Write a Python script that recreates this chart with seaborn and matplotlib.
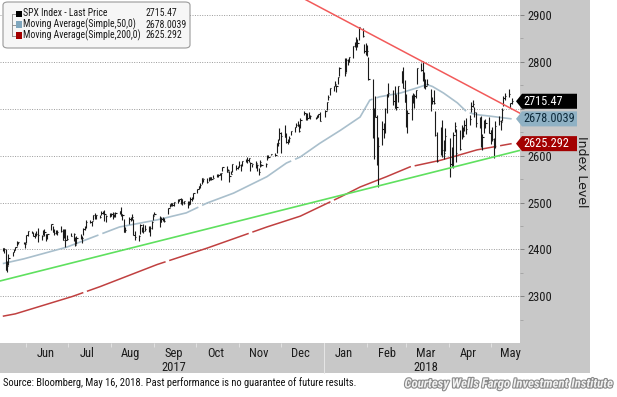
import numpy as np
import pandas as pd
import matplotlib
matplotlib.use("Agg")
import matplotlib.pyplot as plt
import matplotlib.dates as mdates
import matplotlib.transforms as mtransforms
import matplotlib.patheffects as pe
from matplotlib import font_manager as fm
from matplotlib.font_manager import FontProperties
from matplotlib.patches import FancyBboxPatch, Rectangle, Polygon
import seaborn as sns

# ---- data ----
holidays = ["2017-05-29", "2017-07-04", "2017-09-04", "2017-11-23", "2017-12-25",
            "2018-01-01", "2018-01-15", "2018-02-19", "2018-03-30"]

spx_close = [
    # May 2017
    2402.3, 2400.7, 2357.0, 2365.7, 2381.7, 2394.0, 2398.4, 2404.4, 2415.1, 2415.8, 2412.9, 2411.8,
    # Jun
    2430.1, 2439.1, 2436.1, 2429.3, 2433.1, 2433.8, 2431.8, 2429.4, 2440.4, 2437.9, 2432.5, 2433.2,
    2453.5, 2437.0, 2435.6, 2434.5, 2438.3, 2439.1, 2419.4, 2440.7, 2419.7, 2423.4,
    # Jul
    2429.0, 2432.5, 2409.8, 2425.2, 2427.4, 2425.5, 2443.3, 2447.8, 2459.3, 2459.1, 2460.6, 2473.8,
    2473.5, 2472.5, 2469.9, 2477.1, 2477.8, 2475.4, 2472.1, 2470.3,
    # Aug
    2476.4, 2477.6, 2472.2, 2476.8, 2480.9, 2474.9, 2474.0, 2438.2, 2441.3, 2465.8, 2464.6, 2468.1,
    2430.0, 2425.6, 2428.4, 2452.5, 2444.0, 2439.0, 2443.1, 2444.2, 2446.3, 2457.6, 2471.7,
    # Sep
    2476.6, 2457.9, 2465.5, 2465.1, 2461.4, 2488.1, 2496.5, 2498.4, 2495.6, 2500.2, 2503.9, 2506.7,
    2508.2, 2500.6, 2502.2, 2496.7, 2496.8, 2507.0, 2510.1, 2519.4,
    # Oct
    2529.1, 2534.6, 2537.7, 2552.1, 2549.3, 2544.7, 2550.6, 2555.2, 2550.9, 2553.2, 2557.6, 2559.4,
    2561.3, 2562.1, 2575.2, 2565.0, 2569.1, 2557.2, 2560.4, 2581.1, 2572.8, 2575.3,
    # Nov
    2579.4, 2579.9, 2587.8, 2591.1, 2590.6, 2594.4, 2584.6, 2582.3, 2584.8, 2578.9, 2564.6, 2585.6,
    2578.9, 2582.1, 2599.0, 2597.1, 2602.4, 2601.4, 2627.0, 2626.1, 2647.6,
    # Dec
    2642.2, 2639.4, 2629.6, 2629.3, 2637.0, 2651.5, 2660.0, 2664.1, 2662.9, 2652.0, 2675.8, 2690.2,
    2681.5, 2679.3, 2684.6, 2683.3, 2680.5, 2682.6, 2687.5, 2673.6,
    # Jan 2018
    2695.8, 2713.1, 2724.0, 2743.2, 2747.7, 2751.3, 2748.2, 2767.6, 2786.2, 2776.4, 2802.6, 2798.0,
    2810.3, 2833.0, 2839.1, 2837.5, 2839.3, 2872.9, 2853.5, 2822.4, 2823.8,
    # Feb
    2822.0, 2762.1, 2648.9, 2695.1, 2681.7, 2581.0, 2619.6, 2656.0, 2662.9, 2698.6, 2731.2, 2732.2,
    2716.3, 2701.3, 2704.0, 2747.3, 2779.6, 2744.3, 2713.8,
    # Mar
    2677.7, 2691.3, 2720.9, 2728.1, 2726.8, 2739.0, 2786.6, 2783.0, 2765.3, 2749.5, 2747.3, 2752.0,
    2712.9, 2716.9, 2711.9, 2643.7, 2588.3, 2658.6, 2612.6, 2605.0, 2640.9,
    # Apr
    2581.9, 2614.5, 2644.7, 2662.8, 2604.5, 2613.2, 2656.9, 2642.2, 2664.0, 2656.3, 2677.8, 2706.4,
    2708.6, 2693.1, 2670.1, 2670.3, 2634.6, 2639.4, 2666.9, 2669.9, 2648.1,
    # May
    2654.8, 2635.7, 2629.7, 2663.4, 2672.6, 2671.9, 2697.8, 2723.1, 2727.7, 2730.1, 2711.5, 2715.47,
]

spx_high = [
    2404.0, 2403.9, 2400.4, 2375.7, 2390.0, 2395.5, 2400.9, 2405.6, 2418.7, 2416.0, 2415.8, 2415.4,
    2430.1, 2440.2, 2439.0, 2436.2, 2435.3, 2439.0, 2446.2, 2430.9, 2441.5, 2443.8, 2433.9, 2433.2,
    2453.8, 2450.4, 2442.6, 2441.6, 2441.0, 2450.4, 2442.9, 2443.4, 2442.7, 2430.7,
    2436.0, 2434.3, 2425.9, 2428.3, 2432.0, 2429.3, 2445.0, 2449.3, 2463.5, 2462.8, 2460.9, 2473.8,
    2477.6, 2472.5, 2473.1, 2481.2, 2481.7, 2484.0, 2473.5, 2478.0,
    2478.5, 2479.0, 2476.6, 2480.4, 2480.9, 2490.9, 2474.9, 2465.0, 2448.1, 2468.2, 2468.6, 2474.9,
    2465.2, 2440.3, 2430.6, 2454.8, 2448.9, 2454.4, 2451.4, 2449.1, 2449.2, 2460.1, 2475.0,
    2480.4, 2472.0, 2469.6, 2468.6, 2467.1, 2488.9, 2496.8, 2498.4, 2498.4, 2500.2, 2508.3, 2507.8,
    2508.9, 2507.8, 2503.5, 2502.9, 2503.5, 2511.8, 2510.8, 2519.4,
    2529.2, 2535.1, 2540.5, 2552.5, 2550.0, 2551.8, 2555.2, 2555.2, 2555.3, 2557.6, 2559.7, 2559.7,
    2562.4, 2562.4, 2575.4, 2578.3, 2572.2, 2567.4, 2567.1, 2583.0, 2580.0, 2578.3,
    2588.4, 2581.1, 2588.4, 2593.4, 2597.0, 2594.4, 2586.5, 2583.0, 2587.7, 2580.9, 2572.8, 2590.1,
    2583.0, 2584.6, 2601.2, 2600.9, 2604.2, 2606.4, 2627.7, 2634.9, 2657.7,
    2650.6, 2665.2, 2648.7, 2634.4, 2641.0, 2651.7, 2660.3, 2669.7, 2673.3, 2668.1, 2679.6, 2695.0,
    2691.0, 2691.0, 2693.0, 2685.4, 2682.7, 2685.6, 2688.0, 2692.1,
    2695.9, 2714.4, 2729.3, 2743.5, 2748.5, 2759.1, 2750.8, 2767.6, 2787.9, 2807.5, 2807.0, 2805.8,
    2810.3, 2833.0, 2842.2, 2853.0, 2848.6, 2872.9, 2870.6, 2837.8, 2839.3,
    2836.0, 2808.9, 2763.4, 2701.0, 2727.7, 2685.3, 2638.7, 2672.6, 2668.8, 2702.1, 2731.5, 2754.4,
    2739.1, 2747.8, 2731.3, 2747.8, 2780.0, 2789.2, 2761.5,
    2730.9, 2696.2, 2728.1, 2732.1, 2731.0, 2740.5, 2786.6, 2797.0, 2801.9, 2777.1, 2763.0, 2761.9,
    2741.4, 2724.2, 2739.1, 2695.7, 2650.9, 2661.4, 2674.8, 2632.7, 2659.1,
    2638.3, 2619.1, 2649.9, 2672.1, 2656.9, 2653.6, 2665.5, 2661.4, 2674.7, 2680.3, 2686.5, 2713.3,
    2717.5, 2702.8, 2692.4, 2682.9, 2683.6, 2645.3, 2676.5, 2677.3, 2682.9,
    2655.3, 2660.9, 2637.1, 2673.6, 2683.4, 2676.3, 2701.3, 2726.1, 2732.9, 2742.1, 2711.8, 2722.5,
]

spx_low = [
    2396.0, 2393.2, 2356.2, 2352.7, 2367.8, 2386.9, 2393.9, 2397.9, 2408.0, 2410.8, 2410.7, 2403.6,
    2413.5, 2427.7, 2434.3, 2428.1, 2424.8, 2427.9, 2415.7, 2419.9, 2431.3, 2428.3, 2418.5, 2422.9,
    2441.8, 2436.6, 2430.7, 2433.3, 2431.3, 2437.0, 2419.4, 2425.4, 2405.7, 2419.3,
    2428.5, 2419.0, 2407.7, 2412.1, 2422.3, 2412.8, 2431.6, 2441.4, 2446.7, 2457.2, 2450.3, 2463.5,
    2465.4, 2465.1, 2466.3, 2473.5, 2474.9, 2459.9, 2459.1, 2468.5,
    2471.1, 2464.0, 2468.4, 2468.4, 2475.9, 2470.3, 2462.0, 2437.8, 2437.3, 2454.6, 2460.5, 2463.6,
    2430.0, 2420.7, 2417.4, 2433.7, 2437.9, 2435.7, 2439.9, 2436.4, 2428.2, 2443.4, 2462.1,
    2473.9, 2446.9, 2459.2, 2460.3, 2459.4, 2474.5, 2490.4, 2492.1, 2491.9, 2493.2, 2499.9, 2502.2,
    2496.7, 2494.9, 2496.5, 2488.9, 2495.1, 2495.9, 2502.9, 2507.8,
    2520.4, 2528.9, 2531.8, 2540.0, 2544.0, 2541.6, 2544.9, 2547.9, 2547.0, 2552.1, 2554.5, 2554.7,
    2557.5, 2547.9, 2567.2, 2564.3, 2566.6, 2544.0, 2559.8, 2565.9, 2568.3, 2572.2,
    2574.9, 2566.2, 2576.8, 2585.7, 2584.4, 2585.7, 2566.3, 2575.6, 2574.5, 2566.6, 2557.5, 2576.1,
    2577.5, 2576.2, 2590.8, 2594.7, 2600.5, 2598.9, 2605.4, 2620.3, 2633.9,
    2605.5, 2639.0, 2627.7, 2624.8, 2628.2, 2644.1, 2649.1, 2659.8, 2662.4, 2650.2, 2659.1, 2685.9,
    2676.1, 2676.1, 2680.7, 2678.1, 2678.0, 2678.9, 2682.7, 2673.6,
    2682.4, 2697.8, 2719.1, 2727.9, 2737.6, 2747.9, 2736.1, 2752.8, 2769.6, 2768.6, 2778.4, 2792.6,
    2798.1, 2808.1, 2830.6, 2824.8, 2830.9, 2846.2, 2851.5, 2818.3, 2813.0,
    2812.7, 2760.0, 2638.2, 2593.1, 2681.3, 2580.6, 2532.7, 2622.4, 2637.1, 2648.9, 2689.8, 2725.1,
    2706.8, 2701.3, 2697.8, 2713.7, 2753.8, 2744.2, 2713.5,
    2659.7, 2647.3, 2675.8, 2711.3, 2701.7, 2722.7, 2751.5, 2779.3, 2758.7, 2744.4, 2741.5, 2750.0,
    2694.6, 2710.1, 2709.8, 2641.6, 2585.9, 2601.8, 2596.1, 2593.1, 2609.7,
    2553.8, 2574.6, 2573.6, 2649.6, 2586.3, 2610.8, 2635.8, 2639.3, 2652.5, 2645.1, 2665.2, 2692.1,
    2703.6, 2681.9, 2660.6, 2657.7, 2617.3, 2612.7, 2647.2, 2659.0, 2648.0,
    2625.4, 2631.7, 2594.6, 2615.3, 2664.7, 2655.2, 2674.1, 2704.5, 2717.5, 2725.5, 2701.6, 2709.2,
]

ma50_dates = ["2017-05-15", "2017-05-30", "2017-06-30", "2017-08-07", "2017-09-03", "2017-09-24",
              "2017-10-09", "2017-10-28", "2017-11-21", "2017-12-05", "2017-12-15", "2017-12-29",
              "2018-01-13", "2018-01-27", "2018-02-03", "2018-02-10", "2018-02-25", "2018-03-09",
              "2018-03-16", "2018-03-20", "2018-03-28", "2018-04-07", "2018-04-14", "2018-04-21",
              "2018-04-30", "2018-05-16"]
ma50_vals = [2370, 2380, 2405, 2448, 2463, 2478, 2499, 2520, 2555, 2584, 2597, 2626,
             2654, 2682, 2718, 2725, 2733, 2744, 2751, 2747, 2733, 2712, 2692, 2687,
             2684, 2678.0039]

ma200_dates = ["2017-05-15", "2017-05-24", "2017-07-04", "2017-07-24", "2017-09-03", "2017-10-09",
               "2017-11-21", "2017-12-15", "2018-01-13", "2018-01-27", "2018-02-15", "2018-03-04",
               "2018-03-26", "2018-04-07", "2018-04-21", "2018-05-16"]
ma200_vals = [2258, 2263, 2300, 2321, 2368, 2403, 2448, 2471, 2512, 2533, 2555, 2576,
              2590, 2600, 2612, 2625.292]

# hand drawn trend lines (end points)
down_trend_dates = ["2017-12-18", "2018-05-22"]
down_trend_vals = [2933, 2690]
up_trend_dates = ["2017-05-13", "2018-05-22"]
up_trend_vals = [2333, 2611]

month_labels = ["Jun", "Jul", "Aug", "Sep", "Oct", "Nov", "Dec", "Jan", "Feb", "Mar", "Apr", "May"]
month_mid = ["2017-06-15", "2017-07-15", "2017-08-15", "2017-09-15", "2017-10-15", "2017-11-15",
             "2017-12-15", "2018-01-15", "2018-02-15", "2018-03-15", "2018-04-15", "2018-05-15"]
year_labels = ["2017", "2018"]
year_pos = ["2017-09-15", "2018-03-15"]

y_ticks = [2300, 2400, 2500, 2600, 2700, 2800, 2900]
y_labels = ["2300", "2400", "2500", "2600", "", "2800", "2900"]   # 2700 sits under the tags

legend_names = ["SPX Index - Last Price", "Moving Average(Simple,50,0)", "Moving Average(Simple,200,0)"]
legend_values = ["2715.47", "2678.0039", "2625.292"]

# ---- fonts: look for a narrow face, the original uses a condensed one ----
sns.set_theme(style="white")
plt.rcParams['font.family'] = ['Liberation Sans', 'DejaVu Sans']


def find_face(bold_italic=False):
    entries = fm.fontManager.ttflist
    def ok(f):
        fn = f.fname.lower()
        bi = ("bold" in fn) and ("italic" in fn or "oblique" in fn)
        plain = not any(k in fn for k in ("bold", "italic", "oblique", "light", "thin", "black", "medium", "semi"))
        return bi if bold_italic else plain
    for want in ("Liberation Sans Narrow", "DejaVu Sans Condensed", "Roboto Condensed",
                 "Open Sans Condensed", "Noto Sans Condensed"):
        for f in entries:
            if f.name == want and ok(f):
                return f.fname
    for f in entries:
        fn = f.fname.lower()
        if ("narrow" in fn or "condensed" in fn) and ok(f):
            return f.fname
    return None


narrow_path = find_face()
narrow_bi_path = find_face(bold_italic=True)
scale = 1.0 if narrow_path else 0.86


def fp(size):
    if narrow_path:
        return FontProperties(fname=narrow_path, size=size)
    return FontProperties(family="Liberation Sans", size=size * scale)


W, H = 617, 397
def fx(x):
    return x / W
def fy(y):
    return 1 - y / H

fig = plt.figure(figsize=(W / 100, H / 100), dpi=100)
fig.patch.set_facecolor("white")

# gray frame (right panel + date strip)
fig.add_artist(Rectangle((0, fy(373)), fx(590), 1 - fy(373), transform=fig.transFigure,
                         facecolor="#c8c8c8", edgecolor="none", zorder=-1))

ax = fig.add_axes([0, fy(343), fx(520), 1 - fy(343)])
ax.set_facecolor("white")
for s in ax.spines.values():
    s.set_visible(False)

days = pd.bdate_range("2017-05-15", "2018-05-16")
days = days[~days.isin(pd.to_datetime(holidays))]
n = min(len(days), len(spx_close))
days = days[:n]

bar_col = "#1a1a1a"
ax.vlines(days, spx_low[:n], spx_high[:n], color=bar_col, lw=0.8, zorder=4)
ax.hlines(spx_close[:n], days, days + pd.Timedelta(hours=22), color=bar_col, lw=0.8, zorder=4)

sns.lineplot(x=pd.to_datetime(ma50_dates), y=ma50_vals, ax=ax, color="#a9bfcc", lw=1.2,
             linestyle=(0, (60, 2.5)), legend=False, zorder=3)
sns.lineplot(x=pd.to_datetime(ma200_dates), y=ma200_vals, ax=ax, color="#c04040", lw=1.1,
             linestyle=(0, (55, 2.5)), legend=False, zorder=3)
sns.lineplot(x=pd.to_datetime(down_trend_dates), y=down_trend_vals, ax=ax, color="#f25a5a",
             lw=1.1, legend=False, zorder=5)
sns.lineplot(x=pd.to_datetime(up_trend_dates), y=up_trend_vals, ax=ax, color="#5fe05f",
             lw=1.2, legend=False, zorder=5)

ax.set_xlim(pd.Timestamp("2017-05-13"), pd.Timestamp("2018-05-22"))
ax.set_ylim(2201, 2931)
ax.set_xlabel("")
ax.set_ylabel("")

# y axis on the right
ax.yaxis.tick_right()
ax.set_yticks(y_ticks, y_labels)
ax.set_yticks(range(2250, 2950, 100), minor=True)
ax.tick_params(axis="y", which="major", direction="out", length=3, width=0.6, color="#777777",
               labelcolor="#1a1a1a", pad=2, right=True)
ax.tick_params(axis="y", which="minor", direction="out", length=2, width=0.5, color="#999999", right=True)
for lab in ax.get_yticklabels():
    lab.set_fontproperties(fp(9))
ax.grid(axis="y", which="major", color="#9a9a9a", linestyle=(0, (1, 1.5)), lw=0.7)
ax.grid(axis="x", visible=False)

# x axis: month ticks on the date strip, labels as text
ax.xaxis.set_major_locator(mdates.MonthLocator())
ax.set_xticklabels([])
ax.tick_params(axis="x", which="major", direction="out", length=3, width=0.6, color="#e6e6e6",
               bottom=True)
xt = ax.get_xaxis_transform()
for lab, d in zip(month_labels, month_mid):
    ax.text(pd.Timestamp(d), -0.03, lab, transform=xt, ha="center", va="center",
            fontproperties=fp(9), color="#1a1a1a", clip_on=False)
for lab, d in zip(year_labels, year_pos):
    ax.text(pd.Timestamp(d), -0.071, lab, transform=xt, ha="center", va="center",
            fontproperties=fp(9), color="#1a1a1a", clip_on=False)
ax.plot([pd.Timestamp("2018-01-01")] * 2, [0, -0.088], transform=xt, color="#e6e6e6",
        lw=0.7, clip_on=False)

# value tags on the right axis
tr = mtransforms.blended_transform_factory(fig.transFigure, ax.transData)
tags = [(2715.47, "#000000", "white"), (2678.0039, "#8fb1c4", "#0e2a3a"), (2625.292, "#a30000", "white")]
hh = 16
for (v, bg, fg), lab in zip(tags, legend_values):
    poly = Polygon([(fx(516), v), (fx(522), v + hh), (fx(577), v + hh), (fx(577), v - hh),
                    (fx(522), v - hh)], closed=True, transform=tr, facecolor=bg,
                   edgecolor="none", clip_on=False, zorder=6)
    ax.add_patch(poly)
    ax.text(fx(523), v, lab, transform=tr, ha="left", va="center", fontproperties=fp(8.8),
            color=fg, clip_on=False, zorder=7)

fig.text(fx(582), fy(172), "Index Level", rotation=270, ha="center", va="center",
         fontsize=9, color="#1a1a1a", family=["DejaVu Sans"])

# legend box
fig.add_artist(FancyBboxPatch((fx(3), fy(48)), fx(190) - fx(3), fy(2) - fy(48),
                              boxstyle="round,pad=0,rounding_size=0.008",
                              transform=fig.transFigure, facecolor="#f6f6f6",
                              edgecolor="#9a9a9a", lw=0.8, zorder=10))
leg_cols = ["#000000", "#7fa6bd", "#a30000"]
rows = [13.5, 24.5, 35.5]
fig.add_artist(plt.Line2D([fx(12), fx(12)], [fy(13.5), fy(35.5)], transform=fig.transFigure,
                          color="#888888", lw=0.6, zorder=11))
for name, val, c, r in zip(legend_names, legend_values, leg_cols, rows):
    fig.add_artist(plt.Line2D([fx(12), fx(16)], [fy(r), fy(r)], transform=fig.transFigure,
                              color="#888888", lw=0.6, zorder=11))
    fig.add_artist(Rectangle((fx(16), fy(r + 3)), fx(6), fy(r - 3) - fy(r + 3),
                             transform=fig.transFigure, facecolor=c, edgecolor="none", zorder=11))
    fig.text(fx(23), fy(r), name, ha="left", va="center", fontproperties=fp(7.0),
             color="#1a1a1a", zorder=12)
    fig.text(fx(145), fy(r), val, ha="left", va="center", fontproperties=fp(7.0),
             color="#1a1a1a", zorder=12)

# footer
fig.text(fx(3), fy(383), "Source: Bloomberg, May 16, 2018. Past performance is no guarantee of future results.",
         ha="left", va="center", fontproperties=fp(7.6), color="#111111")
if narrow_bi_path:
    court_fp = FontProperties(fname=narrow_bi_path, size=9.2)
else:
    court_fp = FontProperties(family="Liberation Sans", style="italic", weight="bold", size=7.8)
fig.text(fx(612), fy(384), "Courtesy Wells Fargo Investment Institute", ha="right", va="center",
         fontproperties=court_fp, color="#f2f2f2",
         path_effects=[pe.withStroke(linewidth=1.6, foreground="#8a8a8a")])

fig.savefig("out.png", dpi=100)
